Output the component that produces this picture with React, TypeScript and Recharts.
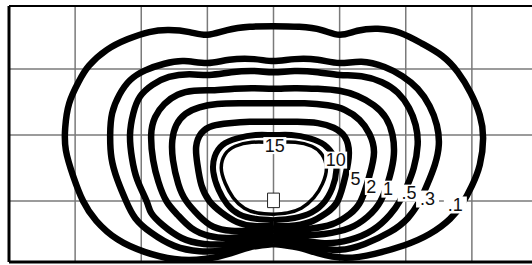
import React from 'react';
import {
  ComposedChart,
  Line,
  Scatter,
  XAxis,
  YAxis,
  CartesianGrid,
  ReferenceLine,
  ReferenceArea,
} from 'recharts';

// Isolux diagram: contours traced in grid units, luminaire at (0, 0).
// Each contour runs from the fan under the luminaire, round the left side,
// over the top and back down the right side.

type Pt = { x: number; y: number };

const lux01: Pt[] = [
  { x: 0, y: -0.65 }, { x: -0.36, y: -0.7 }, { x: -0.64, y: -0.79 }, { x: -1.05, y: -0.88 },
  { x: -1.5, y: -0.88 }, { x: -1.95, y: -0.77 }, { x: -2.36, y: -0.58 }, { x: -2.68, y: -0.3 },
  { x: -2.88, y: 0 }, { x: -3.03, y: 0.38 }, { x: -3.14, y: 0.77 }, { x: -3.15, y: 1.11 },
  { x: -3.09, y: 1.48 }, { x: -2.95, y: 1.8 }, { x: -2.79, y: 2.05 }, { x: -2.52, y: 2.29 },
  { x: -2.21, y: 2.45 }, { x: -1.88, y: 2.56 }, { x: -1.58, y: 2.59 }, { x: -1.27, y: 2.56 },
  { x: -1.0, y: 2.52 }, { x: -0.7, y: 2.59 }, { x: -0.36, y: 2.64 }, { x: 0, y: 2.65 },
  { x: 0.39, y: 2.64 }, { x: 0.73, y: 2.59 }, { x: 1.0, y: 2.52 }, { x: 1.27, y: 2.58 },
  { x: 1.58, y: 2.61 }, { x: 1.91, y: 2.55 }, { x: 2.24, y: 2.39 }, { x: 2.55, y: 2.2 },
  { x: 2.79, y: 1.95 }, { x: 2.98, y: 1.64 }, { x: 3.12, y: 1.3 }, { x: 3.17, y: 0.95 },
  { x: 3.12, y: 0.55 }, { x: 3.0, y: 0.23 }, { x: 2.86, y: -0.03 }, { x: 2.67, y: -0.27 },
  { x: 2.36, y: -0.5 }, { x: 1.98, y: -0.67 }, { x: 1.53, y: -0.8 }, { x: 1.08, y: -0.86 },
  { x: 0.67, y: -0.79 }, { x: 0.36, y: -0.7 }, { x: 0, y: -0.65 },
];

const lux03: Pt[] = [
  { x: 0, y: -0.59 }, { x: -0.36, y: -0.65 }, { x: -0.74, y: -0.74 }, { x: -1.12, y: -0.76 },
  { x: -1.5, y: -0.68 }, { x: -1.85, y: -0.48 }, { x: -2.09, y: -0.26 }, { x: -2.23, y: 0 },
  { x: -2.36, y: 0.32 }, { x: -2.45, y: 0.65 }, { x: -2.47, y: 1.0 }, { x: -2.44, y: 1.33 },
  { x: -2.33, y: 1.61 }, { x: -2.17, y: 1.83 }, { x: -1.94, y: 1.98 }, { x: -1.65, y: 2.08 },
  { x: -1.35, y: 2.12 }, { x: -1.0, y: 2.09 }, { x: -0.67, y: 2.14 }, { x: -0.29, y: 2.15 },
  { x: 0, y: 2.12 }, { x: 0.32, y: 2.15 }, { x: 0.67, y: 2.14 }, { x: 1.0, y: 2.09 },
  { x: 1.33, y: 2.11 }, { x: 1.68, y: 2.03 }, { x: 1.95, y: 1.89 }, { x: 2.18, y: 1.7 },
  { x: 2.36, y: 1.44 }, { x: 2.47, y: 1.15 }, { x: 2.5, y: 0.85 }, { x: 2.44, y: 0.55 },
  { x: 2.33, y: 0.26 }, { x: 2.21, y: 0 }, { x: 2.03, y: -0.26 }, { x: 1.76, y: -0.47 },
  { x: 1.38, y: -0.65 }, { x: 1.0, y: -0.74 }, { x: 0.62, y: -0.7 }, { x: 0.32, y: -0.64 },
  { x: 0, y: -0.59 },
];

const lux05: Pt[] = [
  { x: 0, y: -0.55 }, { x: -0.33, y: -0.59 }, { x: -0.67, y: -0.65 }, { x: -1.05, y: -0.65 },
  { x: -1.39, y: -0.56 }, { x: -1.68, y: -0.36 }, { x: -1.85, y: -0.18 }, { x: -1.92, y: 0 },
  { x: -2.06, y: 0.32 }, { x: -2.14, y: 0.65 }, { x: -2.17, y: 1.0 }, { x: -2.12, y: 1.33 },
  { x: -2.02, y: 1.58 }, { x: -1.83, y: 1.76 }, { x: -1.58, y: 1.88 }, { x: -1.27, y: 1.92 },
  { x: -0.97, y: 1.91 }, { x: -0.64, y: 1.95 }, { x: -0.29, y: 1.97 }, { x: 0, y: 1.95 },
  { x: 0.32, y: 1.97 }, { x: 0.67, y: 1.95 }, { x: 1.0, y: 1.91 }, { x: 1.33, y: 1.89 },
  { x: 1.64, y: 1.8 }, { x: 1.88, y: 1.64 }, { x: 2.05, y: 1.41 }, { x: 2.15, y: 1.15 },
  { x: 2.18, y: 0.85 }, { x: 2.12, y: 0.5 }, { x: 2.02, y: 0.23 }, { x: 1.91, y: 0 },
  { x: 1.76, y: -0.21 }, { x: 1.5, y: -0.44 }, { x: 1.15, y: -0.59 }, { x: 0.77, y: -0.64 },
  { x: 0.39, y: -0.59 }, { x: 0, y: -0.55 },
];

const lux1: Pt[] = [
  { x: 0, y: -0.5 }, { x: -0.33, y: -0.53 }, { x: -0.67, y: -0.56 }, { x: -0.97, y: -0.53 },
  { x: -1.24, y: -0.41 }, { x: -1.45, y: -0.21 }, { x: -1.62, y: 0 }, { x: -1.74, y: 0.29 },
  { x: -1.82, y: 0.62 }, { x: -1.85, y: 1.0 }, { x: -1.79, y: 1.27 }, { x: -1.65, y: 1.47 },
  { x: -1.45, y: 1.61 }, { x: -1.2, y: 1.67 }, { x: -0.89, y: 1.68 }, { x: -0.59, y: 1.7 },
  { x: -0.29, y: 1.71 }, { x: 0, y: 1.7 }, { x: 0.32, y: 1.71 }, { x: 0.67, y: 1.7 },
  { x: 1.0, y: 1.67 }, { x: 1.27, y: 1.59 }, { x: 1.52, y: 1.45 }, { x: 1.7, y: 1.26 },
  { x: 1.8, y: 1.0 }, { x: 1.82, y: 0.7 }, { x: 1.76, y: 0.38 }, { x: 1.62, y: 0 },
  { x: 1.42, y: -0.24 }, { x: 1.15, y: -0.41 }, { x: 0.77, y: -0.5 }, { x: 0.39, y: -0.52 },
  { x: 0, y: -0.5 },
];

const lux2: Pt[] = [
  { x: 0, y: -0.44 }, { x: -0.33, y: -0.45 }, { x: -0.64, y: -0.45 }, { x: -0.91, y: -0.39 },
  { x: -1.12, y: -0.23 }, { x: -1.32, y: 0 }, { x: -1.44, y: 0.26 }, { x: -1.52, y: 0.62 },
  { x: -1.53, y: 0.92 }, { x: -1.47, y: 1.15 }, { x: -1.33, y: 1.32 }, { x: -1.12, y: 1.42 },
  { x: -0.85, y: 1.47 }, { x: -0.52, y: 1.48 }, { x: 0, y: 1.48 }, { x: 0.47, y: 1.48 },
  { x: 0.82, y: 1.45 }, { x: 1.08, y: 1.38 }, { x: 1.3, y: 1.23 }, { x: 1.45, y: 1.02 },
  { x: 1.52, y: 0.74 }, { x: 1.45, y: 0.38 }, { x: 1.32, y: 0 }, { x: 1.15, y: -0.2 },
  { x: 0.89, y: -0.35 }, { x: 0.55, y: -0.42 }, { x: 0.24, y: -0.44 }, { x: 0, y: -0.44 },
];

const lux5: Pt[] = [
  { x: 0, y: -0.38 }, { x: -0.29, y: -0.38 }, { x: -0.55, y: -0.32 }, { x: -0.79, y: -0.17 },
  { x: -0.97, y: 0 }, { x: -1.09, y: 0.24 }, { x: -1.15, y: 0.55 }, { x: -1.17, y: 0.82 },
  { x: -1.09, y: 1.03 }, { x: -0.92, y: 1.14 }, { x: -0.67, y: 1.18 }, { x: -0.36, y: 1.2 },
  { x: 0, y: 1.2 }, { x: 0.36, y: 1.2 }, { x: 0.67, y: 1.18 }, { x: 0.91, y: 1.11 },
  { x: 1.08, y: 0.97 }, { x: 1.14, y: 0.73 }, { x: 1.09, y: 0.39 }, { x: 0.97, y: 0 },
  { x: 0.8, y: -0.18 }, { x: 0.55, y: -0.32 }, { x: 0.24, y: -0.38 }, { x: 0, y: -0.38 },
];

const lux10: Pt[] = [
  { x: 0, y: -0.29 }, { x: -0.27, y: -0.27 }, { x: -0.52, y: -0.2 }, { x: -0.7, y: -0.05 },
  { x: -0.83, y: 0.17 }, { x: -0.91, y: 0.44 }, { x: -0.89, y: 0.67 }, { x: -0.77, y: 0.85 },
  { x: -0.55, y: 0.95 }, { x: -0.27, y: 1.0 }, { x: 0, y: 1.0 }, { x: 0.27, y: 1.0 },
  { x: 0.55, y: 0.95 }, { x: 0.77, y: 0.85 }, { x: 0.91, y: 0.68 }, { x: 0.95, y: 0.47 },
  { x: 0.89, y: 0.2 }, { x: 0.74, y: -0.05 }, { x: 0.52, y: -0.2 }, { x: 0.24, y: -0.27 },
  { x: 0, y: -0.29 },
];

const lux15: Pt[] = [
  { x: 0, y: -0.2 }, { x: -0.24, y: -0.18 }, { x: -0.44, y: -0.11 }, { x: -0.61, y: 0.05 },
  { x: -0.73, y: 0.27 }, { x: -0.79, y: 0.5 }, { x: -0.73, y: 0.71 }, { x: -0.58, y: 0.83 },
  { x: -0.33, y: 0.89 }, { x: 0, y: 0.89 }, { x: 0.33, y: 0.89 }, { x: 0.58, y: 0.83 },
  { x: 0.73, y: 0.71 }, { x: 0.8, y: 0.5 }, { x: 0.74, y: 0.26 }, { x: 0.61, y: 0.05 },
  { x: 0.42, y: -0.11 }, { x: 0.21, y: -0.18 }, { x: 0, y: -0.2 },
];

const contourLabels = [
  { x: 0.02, y: 0.84, t: '15' },
  { x: 0.94, y: 0.62, t: '10' },
  { x: 1.24, y: 0.34, t: '5' },
  { x: 1.48, y: 0.22, t: '2' },
  { x: 1.73, y: 0.18, t: '1' },
  { x: 2.05, y: 0.12, t: '.5' },
  { x: 2.33, y: 0.03, t: '.3' },
  { x: 2.75, y: -0.06, t: '.1' },
];

const xTicks = [-4, -3, -2, -1, 0, 1, 2, 3, 4];
const yTicks = [0, 1, 2];
const X_DOMAIN: [number, number] = [-4, 4];
const Y_DOMAIN: [number, number] = [-0.924, 2.955];

const contours = [
  { key: 'c01', data: lux01, w: 6.5 },
  { key: 'c03', data: lux03, w: 6.5 },
  { key: 'c05', data: lux05, w: 6.5 },
  { key: 'c1', data: lux1, w: 6.5 },
  { key: 'c2', data: lux2, w: 6.5 },
  { key: 'c5', data: lux5, w: 6.5 },
  { key: 'c10', data: lux10, w: 6 },
  { key: 'c15', data: lux15, w: 3.5 },
];

const LabelMark = (props: any) => {
  const { cx, cy, payload } = props;
  if (cx == null || cy == null) return null;
  const w = payload.t.length * 10 + 3;
  const h = 17;
  return (
    <g>
      <rect x={cx - w / 2} y={cy - h / 2} width={w} height={h} fill="#fff" />
      <text
        x={cx}
        y={cy + 6}
        textAnchor="middle"
        fontFamily="'Liberation Sans', Arial, sans-serif"
        fontSize={18}
        fill="#111"
      >
        {payload.t}
      </text>
    </g>
  );
};

export default function App() {
  return (
    <div style={{ position: 'absolute', left: 0, top: 0, width: 532, height: 265, overflow: 'hidden', background: '#fff' }}>
      <ComposedChart width={540} height={265} margin={{ top: 6, right: 2, bottom: 3, left: 9 }}>
        <CartesianGrid stroke="#7a7a7a" strokeWidth={1.5} />
        <XAxis type="number" dataKey="x" domain={X_DOMAIN} ticks={xTicks} allowDataOverflow hide />
        <YAxis type="number" dataKey="y" domain={Y_DOMAIN} ticks={yTicks} allowDataOverflow hide />
        <ReferenceLine x={-4} stroke="#000" strokeWidth={3} />
        <ReferenceLine y={Y_DOMAIN[1]} stroke="#000" strokeWidth={2} />
        <ReferenceLine y={Y_DOMAIN[0]} stroke="#000" strokeWidth={3} />
        <ReferenceArea x1={-0.09} x2={0.09} y1={-0.1} y2={0.12} fill="#fff" fillOpacity={1} stroke="#222" strokeWidth={1} />
        {contours.map((c) => (
          <Line
            key={c.key}
            data={c.data}
            dataKey="y"
            type="natural"
            stroke="#000"
            strokeWidth={c.w}
            strokeLinejoin="round"
            dot={false}
            activeDot={false}
            isAnimationActive={false}
          />
        ))}
        <Scatter data={contourLabels} dataKey="y" shape={LabelMark} isAnimationActive={false} />
      </ComposedChart>
    </div>
  );
}
